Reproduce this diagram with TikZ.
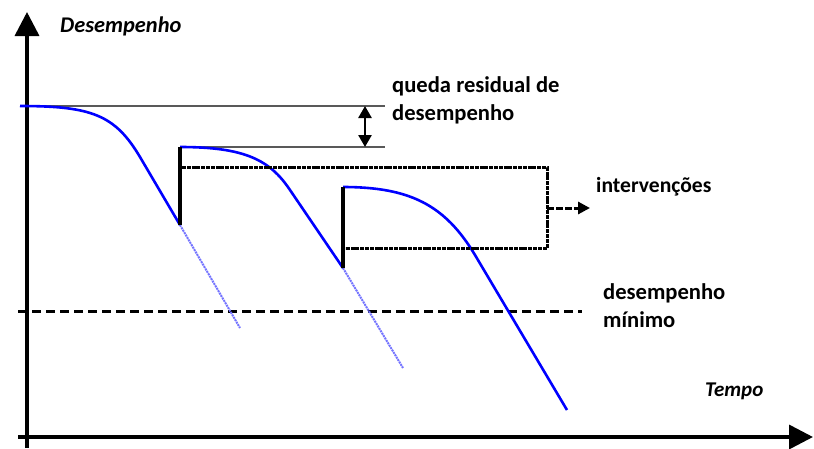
\documentclass[tikz,border=0pt]{standalone}
\usepackage{fontspec}
\setmainfont{Carlito}
\usetikzlibrary{arrows.meta,positioning}

\begin{document}
\begin{tikzpicture}
    [x=1pt,y=-1pt,
    axis/.style={draw, line width=3.6pt, -{Triangle[length=24pt,width=24pt]}},
    level/.style={draw=black!65, line width=1.3pt},
    curve/.style={draw=blue, line width=2.6pt},
    fix/.style={draw=black, line width=3.6pt},
    trend/.style={draw=blue!55, line width=2pt, dash pattern=on 2pt off 0.8pt},
    gap/.style={draw, line width=2.6pt, {Triangle[length=12pt,width=13pt]}-{Triangle[length=12pt,width=13pt]}},
    frame/.style={draw, line width=3pt, dash pattern=on 4pt off 0.8pt},
    limit/.style={draw, line width=3pt, dash pattern=on 9pt off 5pt},
    txt/.style={inner sep=0pt, anchor=west, align=left,
    font=\fontsize{22.6}{28}\selectfont\bfseries},
    axtxt/.style={txt, font=\fontsize{21}{24}\selectfont\bfseries\itshape}]

    \useasboundingbox (0,0) rectangle (814,448);

    % eixos
    \coordinate (ybot) at (27,448);
    \coordinate (ytip) at (27,12);
    \coordinate (xleft) at (18,437);
    \coordinate (xtip) at (813,437);
    \path[axis] (ybot) -- (ytip);
    \path[axis] (xleft) -- (xtip);

    \node [axtxt, font=\fontsize{22.4}{24}\selectfont\bfseries\itshape] (ylab) at (60,26) {Desempenho};
    \node [axtxt] (xlab) at (705,391) {Tempo};

    % pontos das curvas
    \coordinate (p0) at (20,106);
    \coordinate (d1) at (180,225);
    \coordinate (r1) at (180,147);
    \coordinate (d2) at (343,268);
    \coordinate (r2) at (343,187);
    \coordinate (e3) at (567,410);
    \coordinate (t1) at (240,328);
    \coordinate (t2) at (403,368);

    % niveis e queda residual
    \coordinate (g1) at (385,106);
    \coordinate (g2) at (385,147);
    \coordinate (q1) at (365,106);
    \coordinate (q2) at (365,147);
    \path[level] (p0) -- (g1);
    \path[level] (r1) -- (g2);
    \path[gap] (q1) -- (q2);
    \node [txt] (queda) at (392,100) {queda residual de\\desempenho};

    % desempenho minimo
    \coordinate (m0) at (18,311);
    \coordinate (m1) at (582,311);
    \path[limit] (m0) -- (m1);
    \node [txt] (minimo) at (603,306) {desempenho\\m\'{\i}nimo};

    % tendencias sem intervencao
    \path[trend] (d1) -- (t1);
    \path[trend] (d2) -- (t2);

    % curvas de desempenho
    \path[curve] (p0) .. controls (92,106) and (115,115) .. (140,157) -- (d1);
    \path[curve] (r1) .. controls (245,147) and (270,160) .. (290,190) -- (d2);
    \path[curve] (r2) .. controls (410,187) and (445,205) .. (475,255) -- (e3);

    % intervencoes
    \path[fix] (d1) -- (r1);
    \path[fix] (d2) -- (r2);

    \coordinate (b1) at (182,167);
    \coordinate (b2) at (547,167);
    \coordinate (b3) at (547,248);
    \coordinate (b4) at (345,248);
    \coordinate (bm) at (547,208);
    \coordinate (bt) at (590,208);
    \path[frame] (b1) -- (b2) -- (b3) -- (b4);
    \path[draw, line width=3pt, dash pattern=on 7pt off 2pt,
      -{Triangle[length=12pt,width=12pt]}] (bm) -- (bt);
    \node [txt, font=\fontsize{21.6}{28}\selectfont\bfseries] (interv) at (596,187) {interven\c{c}\~{o}es};
\end{tikzpicture}
\end{document}
